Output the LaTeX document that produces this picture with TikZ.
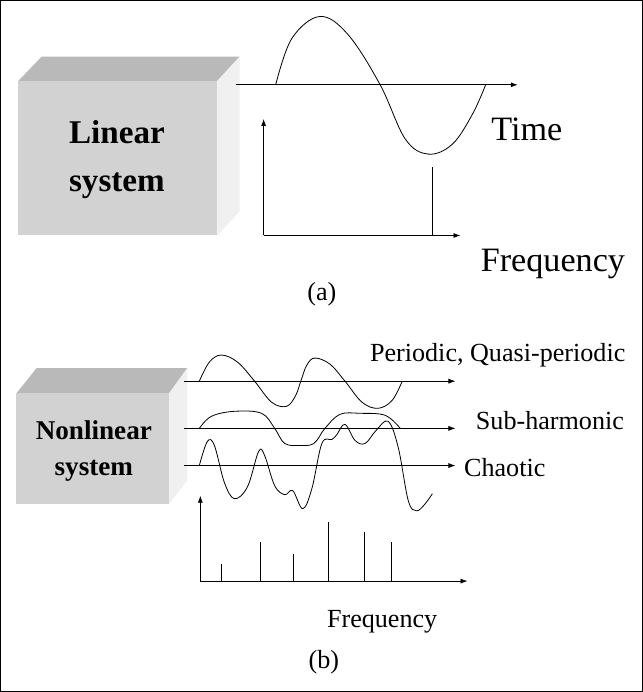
\documentclass[tikz,border=0pt]{standalone}
\usepackage{fontspec}
\setmainfont{Liberation Serif}
\usetikzlibrary{arrows.meta}

\begin{document}
\begin{tikzpicture}[x=1pt, y=-1pt, >={Latex[length=7pt,width=5pt]},
	axis/.style={->, thick},
	wave/.style={thick, smooth, tension=0.6},
	lbl/.style={font=\fontsize{34}{36}\selectfont},
	slbl/.style={font=\fontsize{26}{28}\selectfont}]
	\draw [thick, fill=white] (2,2) rectangle (641,690);

	% linear system box
	\fill [gray!55] (20,82) -- (43,58) -- (240,58) -- (218,82) -- cycle;
	\fill [gray!12] (218,82) -- (240,58) -- (240,212) -- (218,236) -- cycle;
	\fill [gray!35] (20,82) rectangle (218,236);
	\node [font=\bfseries\fontsize{33}{35}\selectfont] (lin) at (118,133) {Linear};
	\node [font=\bfseries\fontsize{33}{35}\selectfont] (sys) at (118,186) {system};

	\coordinate (T0) at (237,86);
	\coordinate (T1) at (517,86);
	\draw [axis] (T0) -- (T1);
	\draw [wave] plot coordinates {(276,86) (292,40) (320,18) (348,36) (380,86) (405,140) (428,155) (452,145) (472,115) (485,86)};
	\node [lbl] (time) at (526,130) {Time};

	\coordinate (F0) at (264,236);
	\draw [axis] (F0) -- (264,120);
	\draw [axis] (F0) -- (460,236);
	\draw [thick] (432,236) -- (432,168);
	\node [lbl] (freqa) at (552,264) {Frequency};
	\node [slbl] (a) at (322,294) {(a)};

	% nonlinear system box
	\fill [gray!55] (18,393) -- (38,368) -- (188,368) -- (170,393) -- cycle;
	\fill [gray!12] (170,393) -- (188,368) -- (188,480) -- (170,503) -- cycle;
	\fill [gray!35] (18,393) rectangle (170,503);
	\node [font=\bfseries\fontsize{27}{29}\selectfont] (nlin) at (95,430) {Nonlinear};
	\node [font=\bfseries\fontsize{27}{29}\selectfont] (nsys) at (95,470) {system};

	\draw [axis] (185,381) -- (455,381);
	\draw [axis] (185,428) -- (455,428);
	\draw [axis] (185,465) -- (455,465);
	\node [slbl] (per) at (497,355) {Periodic, Quasi-periodic};
	\node [slbl] (sub) at (549,420) {Sub-harmonic};
	\node [slbl] (cha) at (504,467) {Chaotic};

	\draw [wave] plot coordinates {(200,381) (210,362) (222,355) (238,362) (255,381) (272,402) (287,406) (296,395) (301,381) (307,365) (315,358) (330,364) (345,381) (362,402) (378,408) (392,400) (402,381)};
	\draw [wave] plot coordinates {(200,428) (212,416) (235,411) (262,413) (275,428) (285,443) (300,445) (314,443) (325,428) (340,414) (360,413) (385,415) (400,428)};
	\draw [wave] plot coordinates {(200,465) (208,441) (215,445) (225,482) (235,498) (248,486) (259,451) (265,455) (275,485) (285,494) (293,490) (303,508) (312,488) (322,443) (332,439) (337,434) (345,424) (355,440) (365,443) (376,430) (388,421) (398,447) (408,500) (416,510) (424,504) (432,493)};

	\coordinate (S0) at (201,580);
	\draw [axis] (S0) -- (201,495);
	\draw [axis] (S0) -- (467,580);
	\foreach \sx/\sy in {222/563, 261/541, 294/553, 328/521, 364/531, 391/541}
		\draw [thick] (\sx,580) -- (\sx,\sy);
	\node [slbl] (freqb) at (382,620) {Frequency};
	\node [slbl] (b) at (324,661) {(b)};
\end{tikzpicture}
\end{document}
